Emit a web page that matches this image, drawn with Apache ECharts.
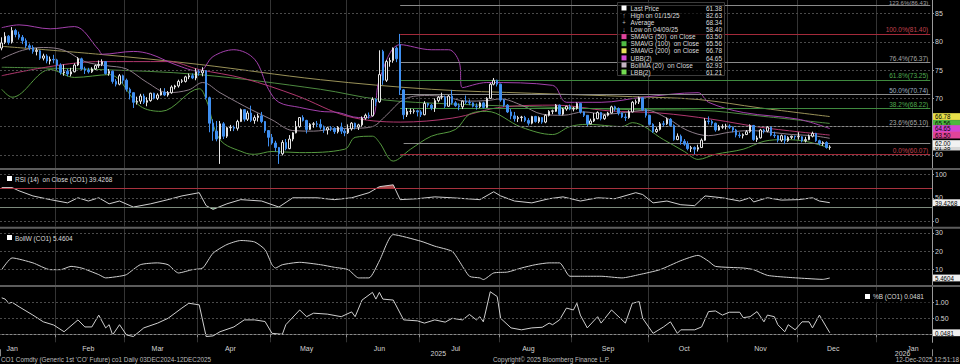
<!DOCTYPE html>
<html><head><meta charset="utf-8">
<script src="https://cdn.jsdelivr.net/npm/echarts@6/dist/echarts.min.js"></script>
<style>html,body{margin:0;padding:0;background:#000;overflow:hidden}#c{width:960px;height:364px}</style>
</head><body><div id="c"></div>
<script>
// ---------- DATA ----------
// daily candles [open, close, low, high], trading days from 10-Jan-2025 to 12-Dec-2025
const candles = [
// Jan (16)
[78.9,79.8,78.5,80.8],[79.9,81.0,79.6,81.7],[81.0,79.9,79.5,81.2],[80.0,82.0,79.7,82.6],[82.0,81.3,80.8,82.3],[81.3,80.8,80.4,81.8],[80.8,80.2,79.6,81.2],[80.2,79.3,78.9,80.6],[79.3,79.0,78.5,79.7],[79.0,78.3,77.9,79.4],[78.3,78.5,77.6,78.9],[78.4,77.1,76.8,78.6],[77.1,77.5,76.7,77.9],[77.5,76.6,76.2,77.8],[76.6,76.9,76.0,77.4],[76.9,76.8,76.2,77.7],
// Feb (20)
[76.8,75.9,75.0,77.0],[75.9,74.6,74.2,76.2],[74.5,74.7,74.0,76.0],[74.8,74.3,73.9,75.2],[74.3,74.7,73.9,75.4],[74.7,75.9,74.6,76.2],[75.9,77.0,75.7,77.3],[77.0,75.2,75.0,77.2],[75.2,75.0,74.3,75.6],[75.0,74.7,74.4,75.4],[74.7,75.2,74.5,75.5],[75.2,75.8,75.0,76.0],[75.8,76.0,75.4,76.7],[76.0,76.5,75.7,76.9],[76.5,74.4,74.2,76.6],[74.4,74.8,74.0,75.2],[74.8,73.0,72.6,74.9],[73.0,72.5,72.1,73.4],[72.5,74.0,72.3,74.3],[74.0,73.2,72.6,74.2],
// Mar (21)
[73.2,71.6,71.2,73.5],[71.6,71.0,69.8,71.9],[71.0,69.3,68.3,71.1],[69.3,69.5,68.9,70.3],[69.5,70.4,69.0,70.8],[70.4,69.3,69.0,70.8],[69.3,69.6,68.6,70.2],[69.6,70.9,69.4,71.0],[70.9,70.0,69.8,71.0],[70.0,70.6,69.7,70.9],[70.6,71.1,70.5,71.8],[71.1,70.6,70.4,71.8],[70.6,71.0,70.3,71.3],[71.0,72.0,70.8,72.3],[72.0,72.2,71.6,72.4],[72.2,73.0,71.9,73.3],[73.0,73.1,72.7,73.4],[73.0,73.8,72.8,74.0],[73.8,74.0,73.4,74.4],[74.0,73.6,73.4,74.4],[73.6,74.7,73.2,75.3],
// Apr (21)
[74.7,74.5,74.0,75.1],[74.5,74.9,73.9,75.5],[74.9,70.1,69.8,75.0],[70.1,65.6,64.0,70.3],[65.6,64.2,62.5,66.3],[64.2,62.8,62.4,66.0],[62.8,65.5,58.4,66.0],[65.5,63.3,62.8,65.8],[63.3,64.8,63.0,65.0],[64.8,64.9,64.2,65.3],[64.9,64.7,64.2,65.2],[64.7,65.9,64.3,66.2],[65.9,68.0,65.8,68.2],[68.0,66.3,65.9,68.0],[66.3,67.4,66.0,67.8],[67.4,66.1,65.8,68.7],[66.1,66.6,65.5,67.0],[66.6,66.9,65.9,67.3],[66.9,65.9,65.6,67.6],[65.9,64.3,63.9,66.0],[64.3,63.1,61.5,64.4],
// May (22)
[63.1,62.1,61.8,63.7],[62.1,61.3,60.6,62.5],[61.3,60.2,58.4,61.4],[60.2,62.2,59.9,62.6],[62.2,61.1,60.8,62.8],[61.1,62.8,61.0,63.5],[62.8,63.9,62.4,64.0],[63.9,65.0,63.8,66.0],[65.0,66.6,64.8,66.7],[66.6,66.1,65.9,67.0],[66.1,64.5,63.8,66.2],[64.5,65.4,64.4,65.6],[65.4,65.5,64.8,65.8],[65.5,65.4,64.9,66.0],[65.4,64.9,64.5,66.3],[64.9,64.4,63.9,65.2],[64.4,64.8,63.6,65.0],[64.8,64.7,64.2,65.1],[64.7,64.1,63.7,64.9],[64.1,64.9,63.8,65.1],[64.9,64.2,63.7,65.7],[64.2,63.9,63.3,64.6],
// Jun (21)
[63.9,64.6,63.7,65.4],[64.6,65.6,64.3,65.8],[65.6,64.9,64.5,65.7],[64.9,65.3,64.4,65.5],[65.3,66.5,65.0,66.8],[66.5,67.0,66.2,67.3],[67.0,66.9,66.4,67.5],[66.9,69.8,66.8,70.2],[69.8,69.4,68.6,70.0],[69.4,74.2,69.2,78.5],[78.3,73.2,72.4,78.6],[73.2,76.5,72.9,76.8],[76.5,76.7,75.6,77.2],[76.7,78.9,76.3,79.0],[78.9,77.0,76.4,79.2],[79.5,71.5,70.6,81.4],[71.5,67.1,66.3,71.6],[67.1,67.7,66.7,68.3],[67.7,67.7,67.2,68.2],[67.7,67.8,67.3,68.1],[67.8,67.6,66.8,68.0],
// Jul (23)
[67.6,67.1,66.7,67.9],[67.1,69.1,67.0,69.5],[69.1,68.8,68.4,69.2],[68.8,68.3,67.9,69.0],[68.3,69.6,67.6,70.0],[69.6,70.2,69.3,70.4],[70.2,70.3,69.8,71.0],[70.2,68.6,68.3,70.5],[68.6,70.4,68.5,70.6],[70.4,69.2,68.9,71.5],[69.2,68.7,68.5,69.5],[68.7,68.5,67.9,69.1],[68.5,69.5,68.1,69.6],[69.5,69.3,69.0,70.5],[69.3,69.2,68.8,69.8],[69.2,68.6,68.4,69.3],[68.6,68.5,68.0,69.1],[68.5,69.2,68.3,69.4],[69.2,68.4,68.2,69.4],[68.4,70.0,68.3,70.2],[70.0,72.5,69.9,72.7],[72.5,73.2,72.3,73.6],[73.2,72.5,72.1,73.3],
// Aug (21)
[72.5,69.7,69.4,72.6],[69.7,68.8,68.5,69.9],[68.8,67.6,67.4,69.0],[67.6,66.9,66.3,68.1],[66.9,66.4,65.9,67.6],[66.4,66.6,65.8,66.9],[66.6,66.7,65.9,66.9],[66.6,66.1,65.8,66.9],[66.1,65.6,65.2,66.5],[65.6,66.8,65.4,66.9],[66.8,65.9,65.7,66.9],[65.9,66.6,65.6,66.8],[66.6,65.8,65.5,66.7],[65.8,67.0,65.6,67.2],[67.0,67.7,66.8,67.9],[67.7,67.8,67.2,68.0],[67.7,68.8,67.6,69.0],[68.8,67.2,67.0,68.9],[67.2,68.1,67.0,68.3],[68.1,68.6,67.8,68.7],[68.6,68.1,67.9,68.9],
// Sep (22)
[68.1,68.2,67.7,68.5],[68.2,69.1,68.0,69.3],[69.1,67.6,67.3,69.2],[67.6,67.0,66.7,67.7],[67.0,65.5,65.1,67.0],[65.5,66.0,65.4,66.4],[66.0,66.4,65.8,67.4],[66.4,67.5,66.3,67.7],[67.5,66.4,66.1,67.6],[66.4,67.0,66.2,67.2],[67.0,67.4,66.8,67.6],[67.4,68.5,67.3,68.7],[68.5,68.2,67.7,68.7],[68.2,67.4,67.0,68.4],[67.4,66.7,66.5,67.5],[66.7,66.6,66.0,67.3],[66.6,67.6,66.4,67.9],[67.6,69.3,67.5,69.5],[69.3,69.4,68.9,69.8],[69.4,70.1,69.0,70.3],[70.1,68.0,67.8,70.2],[68.0,67.0,66.6,68.2],
// Oct (23)
[67.0,65.4,65.2,67.1],[65.4,64.1,63.9,65.6],[64.1,64.5,63.9,64.9],[64.5,65.5,64.3,65.8],[65.5,65.4,65.0,66.0],[65.5,66.3,65.3,66.6],[66.3,65.2,65.0,66.5],[65.2,62.7,62.5,65.4],[62.7,63.3,62.6,63.8],[63.3,62.4,61.8,63.6],[62.4,61.9,61.6,62.8],[61.9,61.1,60.8,62.4],[61.1,61.3,60.5,61.6],[61.3,61.0,60.1,61.5],[61.0,61.3,60.6,61.8],[61.3,62.6,61.2,62.9],[62.6,66.0,62.5,66.5],[66.0,65.9,65.4,66.8],[65.9,65.6,65.2,66.2],[65.6,64.4,64.1,65.7],[64.4,64.9,64.3,65.3],[64.9,65.0,64.6,65.4],[65.0,65.1,64.5,65.5],
// Nov (20)
[65.1,64.9,64.6,65.4],[64.9,64.4,64.0,65.0],[64.4,63.5,63.1,64.6],[63.5,63.4,63.0,64.0],[63.4,63.6,62.9,63.8],[63.6,64.1,63.5,64.4],[64.1,65.2,63.9,65.4],[65.2,62.7,62.5,65.3],[62.7,63.0,62.3,63.4],[63.0,64.4,62.9,64.6],[64.4,64.2,63.8,64.6],[64.2,64.9,64.0,65.1],[64.9,63.5,63.3,65.0],[63.5,63.4,63.0,64.1],[63.4,62.6,62.2,63.5],[62.6,63.4,62.3,63.6],[63.4,62.5,61.9,63.5],[62.5,63.1,62.3,63.3],[63.1,63.3,62.8,63.4],[63.3,63.2,62.7,63.4],
// Dec (10)
[63.2,63.3,62.7,64.0],[63.2,62.5,62.2,63.3],[62.5,62.7,62.2,63.2],[62.7,63.3,62.6,63.6],[63.3,63.8,63.1,64.1],[63.8,62.5,62.3,63.9],[62.5,62.0,61.7,62.7],[62.0,62.2,61.6,62.4],[62.2,61.3,61.1,62.4],[61.3,61.4,60.9,61.7]
];
// overlays: [trading-day index, value]
const sma200 = [[0,79.2],[28,77.8],[57,76.0],[92,73.3],[124,71.6],[153,70.9],[182,70.3],[201,69.8],[219,68.3],[239,66.78]];
const sma100 = [[0,75.5],[28,75.1],[57,74.2],[92,71.6],[109,69.8],[130,69.0],[160,68.4],[182,68.0],[201,67.9],[220,66.8],[239,65.56]];
const sma50  = [[0,74.0],[28,76.5],[48,76.5],[57,75.1],[70,73.5],[85,70.5],[100,66.8],[115,65.8],[130,66.5],[145,68.5],[160,68.8],[175,67.8],[190,67.4],[205,66.3],[220,64.8],[239,63.5]];
const ubb = [[0,82.5],[5,83.0],[14,82.3],[21,82.7],[28,78.6],[29,77.8],[38,78.3],[43,77.8],[50,76.0],[57,74.8],[61,77.4],[67,78.6],[73,76.9],[77,71.6],[80,69.3],[86,68.4],[92,67.7],[97,67.5],[103,66.6],[107,66.8],[109,73.3],[115,79.5],[124,78.6],[129,78.6],[132,76.5],[133,71.9],[140,72.8],[159,72.3],[163,69.3],[173,69.3],[185,70.2],[201,71.0],[204,69.3],[214,67.5],[230,66.3],[239,64.65]];
const bollMA = [[0,77.0],[6,78.5],[12,79.0],[18,78.5],[24,76.5],[30,75.8],[36,75.2],[42,72.8],[48,71.0],[54,71.5],[58,72.8],[63,71.0],[68,69.3],[72,68.0],[78,66.2],[84,64.3],[90,64.2],[96,64.6],[102,64.7],[107,65.0],[111,67.0],[116,69.8],[122,70.5],[128,70.3],[134,69.5],[140,69.6],[144,69.9],[150,68.8],[156,67.2],[162,67.0],[168,67.6],[174,67.2],[180,67.5],[186,67.9],[192,66.5],[198,64.3],[204,63.4],[210,64.0],[216,64.3],[222,64.0],[228,63.6],[234,63.4],[239,62.93]];
const lbb = [[0,71.6],[3,70.2],[14,75.1],[21,73.7],[31,74.2],[40,68.6],[46,67.7],[57,71.7],[59,69.8],[63,62.7],[70,60.4],[73,60.1],[78,60.6],[86,60.4],[99,61.0],[102,63.1],[107,63.3],[109,62.2],[113,58.9],[118,61.0],[124,63.3],[131,64.5],[135,67.2],[140,67.7],[150,64.9],[159,63.6],[164,65.0],[169,65.4],[179,65.0],[182,65.7],[191,62.7],[197,60.6],[201,59.2],[206,60.1],[214,61.0],[220,62.4],[226,62.7],[232,62.4],[239,61.21]];
const rsi = [[0,72],[3,72],[5,65],[9,54],[14,46],[19,39],[22,50],[25,43],[28,50],[31,37],[34,43],[38,30],[43,37],[48,46],[52,54],[57,61],[59,33],[61,25],[65,37],[69,46],[75,43],[80,30],[84,50],[91,50],[96,46],[101,50],[106,61],[109,74],[113,78],[115,46],[120,48],[125,52],[130,50],[138,46],[142,63],[144,54],[148,43],[153,39],[158,48],[162,52],[167,43],[172,50],[177,48],[183,61],[185,57],[188,39],[192,43],[196,35],[200,33],[203,54],[208,50],[213,43],[216,50],[217,41],[221,50],[225,45],[230,46],[234,50],[236,43],[239,39.43]];
const bollW = [[0,10],[3,16.4],[9,13.7],[14,10],[17,10],[20,11.8],[23,10.9],[28,7.3],[30,5.5],[34,6.4],[36,7.3],[40,12.7],[45,13.7],[48,12.7],[51,8.2],[55,10],[58,10.9],[61,19],[65,23.7],[69,25.9],[73,25.1],[76,20.9],[78,12.7],[79,10.9],[81,12.7],[86,14],[92,12.7],[96,11.3],[100,10],[103,5.5],[106,5.5],[109,14.8],[113,29.1],[121,25.5],[125,22.8],[130,20],[132,14.8],[135,6.4],[138,5.5],[139,4.6],[142,8.2],[146,8.7],[150,10.9],[154,12.7],[158,13.7],[161,13.7],[164,6.4],[167,6.4],[173,6.4],[179,5.5],[184,7.3],[190,10],[196,14.9],[201,17.8],[204,14.6],[206,11.8],[214,10.9],[217,10],[221,6.9],[227,5.8],[233,5.1],[237,4.7],[239,5.46]];
const pctB = [[0,1.14],[1,1.1],[2,0.97],[3,1.0],[5,0.86],[9,0.6],[12,0.39],[15,0.29],[18,0.08],[22,0.45],[24,0.23],[26,0.23],[28,0.6],[30,0.2],[31,0.3],[32,-0.02],[34,0.3],[36,-0.02],[38,-0.07],[41,0.2],[45,0.35],[48,0.5],[52,0.82],[54,0.97],[57,0.92],[59,-0.07],[61,-0.05],[63,0.08],[67,0.23],[70,0.45],[73,0.45],[76,0.4],[78,0.03],[81,0.0],[82,0.3],[86,0.76],[88,0.55],[90,0.66],[94,0.63],[98,0.55],[101,0.7],[102,0.55],[104,1.07],[107,1.31],[108,1.1],[109,1.31],[110,1.1],[113,1.07],[116,0.45],[120,0.42],[122,0.35],[125,0.45],[128,0.38],[130,0.5],[133,0.45],[135,0.62],[137,0.45],[138,0.55],[139,0.39],[141,1.33],[143,1.18],[144,0.5],[147,0.2],[150,0.14],[153,0.2],[156,0.22],[158,0.35],[159,0.3],[161,0.45],[163,0.82],[165,0.76],[166,0.97],[167,0.6],[169,0.2],[172,0.55],[173,0.35],[176,0.76],[180,0.35],[182,0.97],[184,1.02],[185,0.5],[188,0.03],[191,0.23],[193,0.39],[195,0.03],[196,0.14],[200,0.14],[202,0.23],[204,0.71],[206,0.73],[208,0.6],[210,0.69],[213,0.69],[214,0.52],[216,0.55],[218,0.71],[220,0.39],[221,0.6],[223,0.55],[224,0.3],[226,0.08],[227,0.3],[229,0.14],[231,0.39],[233,0.39],[234,0.2],[236,0.6],[238,0.23],[239,0.048]];
// Fibonacci retracement levels
const fibPct = ['123.6%','100.0%','76.4%','61.8%','50.0%','38.2%','23.6%','0.0%'];
const fibVal = [86.43,81.40,76.37,73.25,70.74,68.22,65.10,60.07];
const refLine = 62.00;
// tick labels
const priceTicks = [60,70,75,80,85];
const rsiTicks = [0,50,100];
const bollWTicks = [10,20,30];
const pctBTicks = [0.5,1.0];
const monthNames = ['Jan','Feb','Mar','Apr','May','Jun','Jul','Aug','Sep','Oct','Nov','Dec','Jan'];
const monthLabelIdx = [3,25,45,66,88,109,131,152,175,197,219,240,263];
const yearNames = ['2025','2026'];
const yearLabelIdx = [126,260];
// legend
const legendLabels = ['Last Price','High on 01/15/25','Average','Low on 04/09/25','SMAVG (50)\u00a0 on Close','SMAVG (100)\u00a0 on Close','SMAVG (200)\u00a0 on Close','UBB(2)','BollMA (20)\u00a0 on Close','LBB(2)'];
const legendValues = ['61.38','82.63','68.34','58.40','63.50','65.56','66.78','64.65','62.93','61.21'];
const lastTags = [66.78,65.56,64.65,63.50,62.00,61.38];

// ---------- AXIS CATEGORIES (trading days) ----------
function buildDates(){
  const out=[]; const hol={'2025-04-18':1};
  let t=Date.UTC(2025,0,10); const end=Date.UTC(2026,0,22);
  while(t<=end){const d=new Date(t);const wd=d.getUTCDay();const s=d.toISOString().slice(0,10);
    if(wd!==0&&wd!==6&&!hol[s]) out.push(s); t+=86400000;}
  return out;
}
const dates = buildDates();
const monthStart = new Set();
for(let i=1;i<dates.length;i++){ if(dates[i].slice(5,7)!==dates[i-1].slice(5,7)) monthStart.add(i); }
const labelMap = new Map(monthLabelIdx.map((k,j)=>[k,monthNames[j]]));
const yearMap = new Map(yearLabelIdx.map((k,j)=>[k,yearNames[j]]));
const yearBoundary = dates.indexOf('2026-01-01');

const FONT = '"Liberation Sans", Arial, sans-serif';
const GRID_COL = '#343434';
const DOT_COL = '#4a4a4a';

function xAx(gi, show){
  return {type:'category', gridIndex:gi, data:dates, boundaryGap:true,
    axisLine:{show:show, lineStyle:{color:'#8a8a8a'}},
    axisTick:{show:show, interval:(i)=>monthStart.has(i), length:3, lineStyle:{color:'#8a8a8a'}},
    axisLabel:{show:show, interval:(i)=>labelMap.has(i), formatter:(v,i)=>labelMap.get(i)||'', color:'#d4d4d4', fontSize:7, fontFamily:FONT, margin:3},
    splitLine:{show:true, interval:(i)=>monthStart.has(i), lineStyle:{color:GRID_COL, width:1}}
  };
}
function yAx(gi, min, max, ticks, fmt){
  return {type:'value', gridIndex:gi, position:'right', min:min, max:max, scale:true,
    axisLine:{show:true, lineStyle:{color:'#9a9a9a'}},
    axisTick:{show:true, length:2, customValues:ticks, lineStyle:{color:'#9a9a9a'}},
    axisLabel:{show:true, customValues:ticks, formatter:fmt, color:'#d4d4d4', fontSize:7, fontFamily:FONT, margin:3},
    splitLine:{show:false}
  };
}
function hGrid(vals){
  return {symbol:['none','none'], silent:true, animation:false, label:{show:false},
    lineStyle:{color:DOT_COL, type:[2,2], width:1}, data:vals.map(v=>({yAxis:v}))};
}
const fibColors = ['#8a8a8a','#a32a3a','#8a8a8a','#3f8a3f','#8a8a8a','#3f8a3f','#8a8a8a','#a32a3a'];
const fibText  = ['#a0a0a0','#c0404e','#a8a8a8','#4faa4f','#9fb0c0','#4faa4f','#a8a8a8','#c0404e'];
const fibStart = 115, fibEnd = 268;
const fibLines = fibVal.map((v,k)=>[
  {coord:[fibStart,v], lineStyle:{color:fibColors[k], width:1, type:'solid'},
   label:{show:true, position:'insideEndTop', formatter:fibPct[k]+'('+v.toFixed(2)+')', color:fibText[k], fontSize:k===0?6:6.5, fontFamily:FONT, distance:k===0?[2,-1]:[2,0.5]}},
  {coord:[fibEnd,v]}
]);
fibLines.push([{coord:[fibStart+1,refLine], lineStyle:{color:'#8a8a8a', width:1, type:'solid'}, label:{show:false}},{coord:[fibEnd,refLine]}]);

const lineS = (name, data, color, xi, yi, extra) => Object.assign({name, type:'line', xAxisIndex:xi, yAxisIndex:yi, data, showSymbol:false, symbol:'none', smooth:0.35, animation:false, silent:true, lineStyle:{color, width:1}}, extra||{});

// RSI overbought / oversold shading: polygon of the RSI line clipped at the 70 / 30 levels
function rsiShade(level, above, fill){
  return {type:'custom', xAxisIndex:1, yAxisIndex:1, data:[[0,level]], silent:true, z:1, animation:false,
    renderItem:(params, api)=>{
      const pts = rsi.map(p=>api.coord(p));
      const yl = api.coord([0,level])[1];
      const poly = [[pts[0][0], yl]].concat(pts, [[pts[pts.length-1][0], yl]]);
      const cs = params.coordSys;
      const clip = above ? {x:cs.x, y:cs.y, width:cs.width, height:yl-cs.y} : {x:cs.x, y:yl, width:cs.width, height:cs.y+cs.height-yl};
      return {type:'polygon', shape:{points:poly}, style:{fill:fill, stroke:null}, clipPath:{type:'rect', shape:clip}};
    }};
}

const option = {
  backgroundColor:'#000',
  animation:false,
  grid:[
    {left:0, right:28, top:0, height:169},
    {left:0, right:28, top:170, height:56.5},
    {left:0, right:28, top:228.4, height:59.6},
    {left:0, right:28, top:286.3, height:56}
  ],
  xAxis:[xAx(0,false), xAx(1,false), xAx(2,false), xAx(3,true),
    {type:'category', gridIndex:3, data:dates, boundaryGap:true, offset:7, position:'bottom',
     axisLine:{show:false}, axisTick:{show:true, interval:(i)=>i===yearBoundary, length:7, lineStyle:{color:'#8a8a8a'}},
     axisLabel:{show:true, interval:(i)=>yearMap.has(i), formatter:(v,i)=>yearMap.get(i)||'', color:'#d4d4d4', fontSize:7, fontFamily:FONT, margin:1},
     splitLine:{show:false}}
  ],
  yAxis:[
    yAx(0, 57.5, 87.4, priceTicks, v=>String(v)),
    yAx(1, -12, 110, rsiTicks, v=>String(v)),
    yAx(2, 0, 32.5, bollWTicks, v=>String(v)),
    yAx(3, -0.25, 1.5, pctBTicks, v=>v.toFixed(2))
  ],
  series:[
    {name:'CO1', type:'candlestick', xAxisIndex:0, yAxisIndex:0, data:candles, barWidth:2, silent:true, z:5,
     itemStyle:{color:'#000', color0:'#3f8ff0', borderColor:'#e6e6e6', borderColor0:'#3f8ff0', borderWidth:1},
     markLine:{symbol:['none','none'], silent:true, animation:false, data:fibLines}},
    lineS('SMAVG (200)', sma200, '#9a9258', 0, 0, {markLine:hGrid([60,65,70,75,80,85]), z:2}),
    lineS('SMAVG (100)', sma100, '#4d8a40', 0, 0, {z:2}),
    lineS('SMAVG (50)', sma50, '#b0386e', 0, 0, {z:2}),
    lineS('UBB(2)', ubb, '#a340ac', 0, 0, {z:2}),
    lineS('BollMA (20)', bollMA, '#8c7c88', 0, 0, {z:2}),
    lineS('LBB(2)', lbb, '#55993f', 0, 0, {z:2}),
    rsiShade(70, true, 'rgba(215,95,95,0.8)'),
    rsiShade(30, false, 'rgba(90,200,120,0.8)'),
    lineS('RSI', rsi, '#cfcfcf', 1, 1, {smooth:false, z:3,
      markLine:{symbol:['none','none'], silent:true, animation:false, label:{show:false},
        data:[{yAxis:100, lineStyle:{color:DOT_COL, type:[2,2]}},{yAxis:50, lineStyle:{color:DOT_COL, type:[2,2]}},{yAxis:0, lineStyle:{color:DOT_COL, type:[2,2]}},
              {yAxis:70, lineStyle:{color:'#a8323e', type:'solid', width:1}},{yAxis:30, lineStyle:{color:'#7c8a7c', type:'solid', width:1}}]}}),
    lineS('BollW', bollW, '#cfcfcf', 2, 2, {smooth:0.2, markLine:hGrid([10,20,30])}),
    lineS('%B', pctB, '#cfcfcf', 3, 3, {smooth:false, markLine:hGrid([0,0.5,1.0])})
  ]
};
const chart = echarts.init(document.getElementById('c'), null, {renderer:'svg', width:960, height:364});
chart.setOption(option);

// ---------- overlay texts (narrow Bloomberg-like type: horizontally condensed) ----------
const SX = 0.86;
function T(text, x, y, color, size, align, extra){
  return Object.assign({type:'text', x:x, y:y, scaleX:SX, silent:true, z:100,
    style:{text:text, fill:color, font:(size||7.5)+'px '+FONT, textAlign:align||'left', align:align||'left', textVerticalAlign:'middle', verticalAlign:'middle'}}, extra||{});
}
function R(x,y,w,h,fill,stroke,z){ return {type:'rect', silent:true, z:z||90, shape:{x:x,y:y,width:w,height:h}, style:{fill:fill, stroke:stroke||null, lineWidth:stroke?1:0}}; }
const g = [];
[168,226.7,285].forEach(y=>g.push(R(0,y,960,2,'#5c5c5c',null,80)));
g.push(R(617.5,2.5,107,73,'rgba(0,0,0,0.62)','#3c3c3c',95));
const legY=[8,15.2,22.4,29.6,36.6,43.7,50.8,57.9,65,72];
const legIcon=['#ffffff',null,null,null,'#e0449c','#4fba44','#e6e25a','#d24ad6','#c4b4c4','#74dc52'];
const legGlyph=[null,'\u2191','+','\u2193'];
legendLabels.forEach((t,k)=>{
  if(legIcon[k]) g.push(R(621.5,legY[k]-2.5,5,5,legIcon[k],null,101));
  else g.push(T(legGlyph[k],624,legY[k],'#bdbdbd',7,'center'));
  g.push(T(t,630.5,legY[k],'#dcdcdc',7.5,'left'));
  g.push(T(legendValues[k],722,legY[k],'#dcdcdc',7.5,'right'));
});
g.push(R(7,176,5,5,'#ffffff',null,101));
g.push(T('RSI (14)\u00a0 on Close (CO1) 39.4268',15,179,'#dcdcdc',7.5));
g.push(R(7,235,5,5,'#ffffff',null,101));
g.push(T('BollW (CO1) 5.4604',15,238,'#dcdcdc',7.5));
g.push(R(862,290.5,68,12,'rgba(0,0,0,0.8)',null,95));
g.push(R(865,294,5,5,'#ffffff',null,101));
g.push(T('%B (CO1) 0.0481',873,296.5,'#dcdcdc',7.5));
const tagBg=['#e6df4a','#4cb83e','#d246d2','#e0449a','#f2f2f2','#d8d8d8'];
const tagZ=[110,112,114,116,120,118];
lastTags.forEach((v,k)=>{
  const y = chart.convertToPixel({yAxisIndex:0}, v);
  g.push(R(933,y-3.4,27,6.8,tagBg[k],null,tagZ[k]));
  g.push(T(v.toFixed(2),935,y+0.2,'#000',7.2,'left',{z:tagZ[k]+1}));
});
[[1,39.4268,'39.4268'],[2,5.4604,'5.4604'],[3,0.0481,'0.0481']].forEach(([ax,v,s])=>{
  const y = chart.convertToPixel({yAxisIndex:ax}, v);
  g.push(R(933,y-3.4,27,6.8,'#f0f0f0',null,110));
  g.push(T(s,935,y+0.2,'#000',7.2,'left',{z:111}));
});
g.push(T("CO1 Comdty (Generic 1st 'CO' Future) co1 Daily 03DEC2024-12DEC2025",1,359.8,'#bdbdbd',7.4));
g.push(T('Copyright\u00a9 2025 Bloomberg Finance L.P.',493,359.8,'#bdbdbd',7.4));
g.push(T('12-Dec-2025 12:51:18',959,359.8,'#bdbdbd',7.4,'right'));
chart.setOption({graphic:{elements:g}});
</script></body></html>
